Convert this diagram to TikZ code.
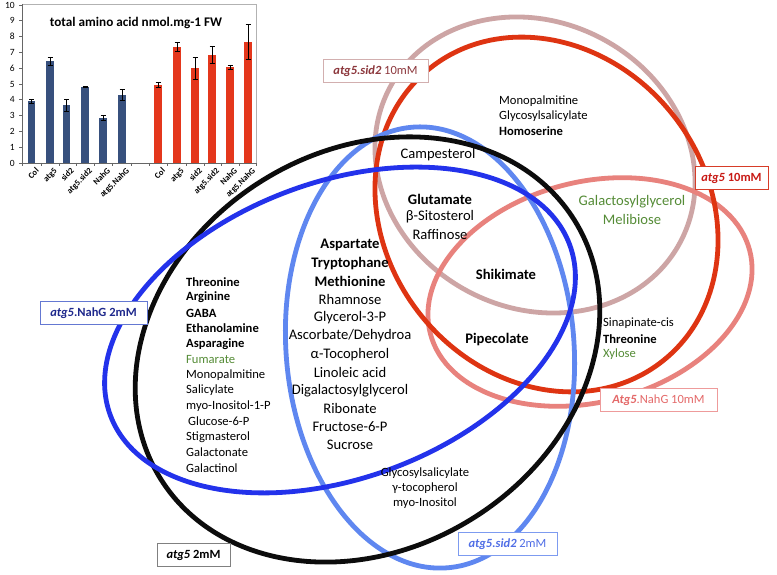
\documentclass[tikz,border=0pt]{standalone}
\usepackage{fontspec}
\setmainfont{Carlito}
\definecolor{cblack}{RGB}{12,12,12}
\definecolor{cblue}{RGB}{35,50,235}
\definecolor{clblue}{RGB}{95,135,240}
\definecolor{cred}{RGB}{222,52,18}
\definecolor{crose}{RGB}{205,165,165}
\definecolor{csalmon}{RGB}{232,130,125}
\definecolor{cgreen}{RGB}{85,140,55}
\definecolor{barblue}{RGB}{55,80,125}
\definecolor{barred}{RGB}{228,55,28}
\definecolor{tnavy}{RGB}{30,40,140}
\definecolor{bnavy}{RGB}{100,120,210}
\definecolor{tlblue}{RGB}{80,110,230}
\definecolor{blblue}{RGB}{125,155,240}
\definecolor{tbrown}{RGB}{140,55,60}
\definecolor{brose}{RGB}{210,175,175}
\definecolor{tred}{RGB}{200,25,20}
\definecolor{bred}{RGB}{215,60,40}
\definecolor{tsalmon}{RGB}{228,105,105}
\definecolor{bsalmon}{RGB}{238,155,155}
\begin{document}
\begin{tikzpicture}[x=1pt,y=1pt,
  ell/.style={line width=4.8pt},
  lbl/.style={draw, fill=white, line width=1pt, inner sep=0pt, minimum height=23pt, font=\fontsize{12.5}{14}\selectfont},
  big/.style={font=\fontsize{14.6}{16}\selectfont, inner sep=0pt},
  small/.style={font=\fontsize{12.6}{14}\selectfont, inner sep=0pt},
  ytick/.style={anchor=east, font=\fontsize{9.5}{10}\selectfont, inner sep=0pt},
  xlab/.style={rotate=45, anchor=north east, font=\bfseries\fontsize{8.5}{10}\selectfont, inner sep=0pt}]
\useasboundingbox (0,0) rectangle (777,575);
\fill[white] (0,0) rectangle (777,575);

% ---- ellipses ----
\draw[ell, crose, rotate around={-28:(535,410)}] (535,410) ellipse [x radius=164.5, y radius=143];
\draw[ell, csalmon, rotate around={14.6:(590,283)}] (590,283) ellipse [x radius=165, y radius=110];
\draw[ell, cred, rotate around={-51.5:(546.5,360.5)}] (546.5,360.5) ellipse [x radius=187, y radius=161];
\draw[ell, clblue, rotate around={4.5:(430,227.5)}] (430,227.5) ellipse [x radius=144, y radius=221];
\draw[ell, cblack, rotate around={32:(367.5,225.5)}] (367.5,225.5) ellipse [x radius=244, y radius=199];
\draw[ell, cblue, rotate around={20.4:(340,245)}] (340,245) ellipse [x radius=245, y radius=148];

% ---- chart ----
\draw[gray!60, line width=0.6pt] (22,571) -- (256,571) -- (256,412);
\draw[gray!80!black, line width=0.7pt] (22,571) -- (22,412) -- (256,412);
\foreach \v in {0,...,10} {
  \node[ytick] (yt\v) at (15,{412+15.8*\v}) {\v};
  \draw[gray!80!black, line width=0.6pt] (19,{412+15.8*\v}) -- (22,{412+15.8*\v});
}
\foreach \x in {22,41,59,76,94,112,131,149,167,186,204,221,239,256}
  \draw[gray!80!black, line width=0.6pt] (\x,412) -- (\x,409);
\foreach \x/\v/\e/\t [count=\i] in {31.7/3.9/0.15/Col, 50/6.45/0.25/atg5, 66.7/3.65/0.4/sid2, 85/4.8/0.02/atg5.sid2, 103/2.85/0.15/NahG, 122/4.3/0.35/atg5.NahG} {
  \fill[barblue] (\x-3.6,412) rectangle (\x+3.6,{412+15.8*\v});
  \draw[black, line width=0.8pt] (\x,{412+15.8*(\v-\e)}) -- (\x,{412+15.8*(\v+\e)});
  \draw[black, line width=0.8pt] (\x-2.5,{412+15.8*(\v-\e)}) -- (\x+2.5,{412+15.8*(\v-\e)});
  \draw[black, line width=0.8pt] (\x-2.5,{412+15.8*(\v+\e)}) -- (\x+2.5,{412+15.8*(\v+\e)});
  \node[xlab] (xb\i) at (\x+3.5,408) {\t};
}
\foreach \x/\v/\e/\t [count=\i] in {158/4.95/0.15/Col, 177/7.35/0.3/atg5, 195/6.0/0.7/sid2, 212/6.85/0.55/atg5.sid2, 230/6.05/0.15/NahG, 248/7.65/1.1/atg5.NahG} {
  \fill[barred] (\x-3.6,412) rectangle (\x+3.6,{412+15.8*\v});
  \draw[black, line width=0.8pt] (\x,{412+15.8*(\v-\e)}) -- (\x,{412+15.8*(\v+\e)});
  \draw[black, line width=0.8pt] (\x-2.5,{412+15.8*(\v-\e)}) -- (\x+2.5,{412+15.8*(\v-\e)});
  \draw[black, line width=0.8pt] (\x-2.5,{412+15.8*(\v+\e)}) -- (\x+2.5,{412+15.8*(\v+\e)});
  \node[xlab] (xr\i) at (\x+3.5,408) {\t};
}
\node[font=\bfseries\fontsize{13.2}{15}\selectfont, inner sep=0pt] (title) at (136,552) {total amino acid nmol.mg-1 FW};

% ---- left list ----
\foreach \t [count=\i] in {\textbf{Threonine}, \textbf{Arginine}, \textbf{GABA}, \textbf{Ethanolamine}, \textbf{Asparagine}, \textcolor{cgreen}{Fumarate}, Monopalmitine, Salicylate, myo-Inositol-1-P, \hspace{2pt}Glucose-6-P, Stigmasterol, Galactonate, Galactinol}
  \node[small, anchor=west] (L\i) at (186,{293-15.5*(\i-1)}) {\t};

% ---- centre list ----
\foreach \t [count=\i] in {\textbf{Aspartate}, \textbf{Tryptophane}, \textbf{Methionine}, Rhamnose, Glycerol-3-P, Ascorbate/Dehydroa, α-Tocopherol, Linoleic acid, Digalactosylglycerol, Ribonate, Fructose-6-P, Sucrose}
  \node[big] (C\i) at (350,{330-18.2*(\i-1)}) {\t};

% ---- other groups ----
\node[small, anchor=west] (m1) at (499,474) {Monopalmitine};
\node[small, anchor=west] (m2) at (499,459) {Glycosylsalicylate};
\node[small, anchor=west] (m3) at (499,444) {\textbf{Homoserine}};
\node[big] (camp) at (438,420) {Campesterol};
\node[big] (glu) at (440,376) {\textbf{Glutamate}};
\node[big] (sit) at (440,358) {β-Sitosterol};
\node[big] (raf) at (440,340) {Raffinose};
\node[big] (shik) at (506,301) {\textbf{Shikimate}};
\node[big] (pip) at (497,235) {\textbf{Pipecolate}};
\node[big, text=cgreen] (gal) at (632,373) {Galactosylglycerol};
\node[big, text=cgreen] (mel) at (632,356) {Melibiose};
\node[small, anchor=west] (s1) at (603,252) {Sinapinate-cis};
\node[small, anchor=west] (s2) at (603,236) {\textbf{Threonine}};
\node[small, anchor=west, text=cgreen] (s3) at (603,221) {Xylose};
\node[small] (g1) at (425,102) {Glycosylsalicylate};
\node[small] (g2) at (425,87) {γ-tocopherol};
\node[small] (g3) at (425,72) {myo-Inositol};

% ---- labels ----
\node[lbl, draw=bnavy, text=tnavy, minimum width=107pt] (lnahg2) at (93.5,262) {\textbf{\textit{atg5}.NahG 2mM}};
\node[lbl, draw=gray, text=black, minimum width=73pt] (latg2) at (193.5,20) {\textbf{\textit{atg5} 2mM}};
\node[lbl, draw=blblue, text=tlblue, minimum width=99pt] (lsid2) at (507.5,30.5) {\textbf{\textit{atg5.sid2}} 2mM};
\node[lbl, draw=brose, text=tbrown, minimum width=105pt] (lsid10) at (375.5,504) {\textbf{\textit{atg5.sid2}} 10mM};
\node[lbl, draw=bred, text=tred, minimum width=73pt] (latg10) at (731.5,396.5) {\textbf{\textit{atg5} 10mM}};
\node[lbl, draw=bsalmon, text=tsalmon, minimum width=117pt] (lnahg10) at (658.5,174.5) {\textbf{\textit{Atg5}}.NahG 10mM};
\end{tikzpicture}
\end{document}
